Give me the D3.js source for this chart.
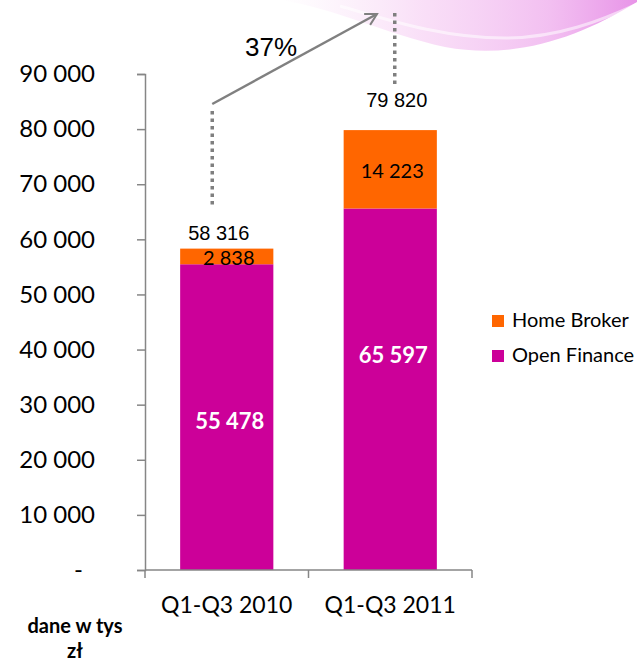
<!DOCTYPE html>
<html>
<head>
<meta charset="utf-8">
<script src="https://cdn.jsdelivr.net/npm/d3@7"></script>
<style>
  body { margin: 0; background: #fff; }
  svg { display: block; }
</style>
</head>
<body>
<div id="chart"></div>
<script>
// chart data
const categories = ["Q1-Q3 2010", "Q1-Q3 2011"];
const seriesNames = ["Open Finance", "Home Broker"];
const openFinance = [55478, 65597];
const homeBroker = [2838, 14223];
const totals = [58316, 79820];
const growthLabel = "37%";
const yTicks = [0, 10000, 20000, 30000, 40000, 50000, 60000, 70000, 80000, 90000];
const unitLines = ["dane w tys", "zł"];

const colors = { "Open Finance": "#cc0099", "Home Broker": "#ff6600" };

const width = 637, height = 661;
const svg = d3.select("#chart").append("svg")
    .attr("width", width)
    .attr("height", height);

// number format with space as thousands separator
const fmt = d3.formatLocale({ decimal: ",", thousands: " ", grouping: [3], currency: ["", ""] }).format(",d");

// background swoosh in the top right corner
const defs = svg.append("defs");
const grad = defs.append("linearGradient").attr("id", "swoosh")
    .attr("x1", "0%").attr("x2", "100%").attr("y1", "0%").attr("y2", "0%");
grad.append("stop").attr("offset", "0%").attr("stop-color", "#f4c8f0").attr("stop-opacity", 0);
grad.append("stop").attr("offset", "40%").attr("stop-color", "#f2b8ee").attr("stop-opacity", 0.45);
grad.append("stop").attr("offset", "75%").attr("stop-color", "#ea96e8").attr("stop-opacity", 0.6);
grad.append("stop").attr("offset", "100%").attr("stop-color", "#e070e0").attr("stop-opacity", 0.75);
svg.append("path")
    .attr("d", "M280,0 C335,8 385,34 445,47 C515,60 578,38 637,2 L637,0 Z")
    .attr("fill", "url(#swoosh)");
svg.append("path")
    .attr("d", "M340,6 C395,22 445,38 505,38 C558,38 602,20 637,4")
    .attr("fill", "none")
    .attr("stroke", "#ffffff")
    .attr("stroke-opacity", 0.55)
    .attr("stroke-width", 3);

// scales
const x = d3.scaleBand().domain(categories).range([145, 472]).padding(0);
const y = d3.scaleLinear().domain([0, 90000]).range([570, 74]);
const barWidth = x.bandwidth() * 0.57;
const barX = c => x(c) + (x.bandwidth() - barWidth) / 2;
const barCenter = c => x(c) + x.bandwidth() / 2;

// stacked data
const table = categories.map((c, i) => ({ category: c, "Open Finance": openFinance[i], "Home Broker": homeBroker[i] }));
const stacked = d3.stack().keys(seriesNames)(table);

// y axis
const yAxis = svg.append("g")
    .attr("transform", "translate(145,0)")
    .call(d3.axisLeft(y).tickValues(yTicks).tickSize(8).tickPadding(42)
        .tickFormat(d => d === 0 ? "-" : fmt(d)));
yAxis.select(".domain").attr("stroke", "#868686").attr("stroke-width", 1.5);
yAxis.selectAll(".tick line").attr("stroke", "#868686").attr("stroke-width", 1.5);
yAxis.selectAll(".tick text")
    .attr("fill", "#000")
    .style("font-family", "Lato, 'Open Sans', sans-serif")
    .style("font-size", "24px")
    .attr("dx", d => d === 0 ? -12 : 0);

// bars
svg.append("g").selectAll("g")
    .data(stacked)
    .join("g")
    .attr("fill", d => colors[d.key])
    .selectAll("rect")
    .data(d => d)
    .join("rect")
    .attr("x", d => barX(d.data.category))
    .attr("y", d => y(d[1]))
    .attr("width", barWidth)
    .attr("height", d => y(d[0]) - y(d[1]));

// x axis (boundary ticks, Excel style)
const xAxisG = svg.append("g");
xAxisG.append("line")
    .attr("x1", x.range()[0]).attr("x2", x.range()[1])
    .attr("y1", y(0)).attr("y2", y(0))
    .attr("stroke", "#868686").attr("stroke-width", 1.5);
const bounds = categories.map(c => x(c)).concat([x.range()[1]]);
xAxisG.selectAll(".bound")
    .data(bounds)
    .join("line")
    .attr("x1", d => d).attr("x2", d => d)
    .attr("y1", y(0)).attr("y2", y(0) + 8)
    .attr("stroke", "#868686").attr("stroke-width", 1.5);
xAxisG.selectAll(".cat")
    .data(categories)
    .join("text")
    .attr("x", d => barCenter(d))
    .attr("y", y(0) + 43)
    .attr("text-anchor", "middle")
    .style("font-family", "Lato, 'Open Sans', sans-serif")
    .style("font-size", "23px")
    .text(d => d);

// Open Finance labels (white, bold)
const whiteShift = [12, -26];
svg.append("g").selectAll("text")
    .data(stacked[0])
    .join("text")
    .attr("x", d => barCenter(d.data.category) + 3)
    .attr("y", (d, i) => (y(d[0]) + y(d[1])) / 2 + whiteShift[i])
    .attr("text-anchor", "middle")
    .attr("fill", "#fff")
    .style("font-family", "Lato, 'Open Sans', sans-serif")
    .style("font-weight", "bold")
    .style("font-size", "22px")
    .text(d => fmt(d[1] - d[0]));

// Home Broker labels
svg.append("g").selectAll("text")
    .data(stacked[1])
    .join("text")
    .attr("x", d => barCenter(d.data.category) + 2)
    .attr("y", d => (y(d[0]) + y(d[1])) / 2 + 8.5)
    .attr("text-anchor", "middle")
    .attr("fill", "#000")
    .style("font-family", "Lato, 'Open Sans', sans-serif")
    .style("font-size", "20px")
    .text(d => fmt(d[1] - d[0]));

// total annotations: dotted leaders, labels, growth arrow
const leadX = [barCenter(categories[0]) - 14.5, barCenter(categories[1]) + 4.5];
const leadTop = [111, 13];
const leadBottom = [y(totals[0]) - 40, y(totals[1]) - 45];
svg.append("g").selectAll("line")
    .data(totals)
    .join("line")
    .attr("x1", (d, i) => leadX[i]).attr("x2", (d, i) => leadX[i])
    .attr("y1", (d, i) => leadTop[i]).attr("y2", (d, i) => leadBottom[i])
    .attr("stroke", "#7f7f7f")
    .attr("stroke-width", 3.5)
    .attr("stroke-dasharray", "3.5,4");

const totalY = [y(totals[0]) - 9, y(totals[1]) - 23];
const totalX = [barCenter(categories[0]) - 8, barCenter(categories[1]) + 6.5];
svg.append("g").selectAll("text")
    .data(totals)
    .join("text")
    .attr("x", (d, i) => totalX[i])
    .attr("y", (d, i) => totalY[i])
    .attr("text-anchor", "middle")
    .attr("fill", "#000")
    .style("font-family", "'Liberation Sans', Arial, sans-serif")
    .style("font-size", "20px")
    .text(d => fmt(d));

defs.append("marker")
    .attr("id", "arrowhead")
    .attr("viewBox", "0 0 12 12")
    .attr("refX", 10).attr("refY", 6)
    .attr("markerWidth", 6).attr("markerHeight", 6)
    .attr("markerUnits", "strokeWidth")
    .attr("orient", "auto")
    .append("path")
    .attr("d", "M1,1 L10,6 L1,11")
    .attr("fill", "none")
    .attr("stroke", "#808080")
    .attr("stroke-width", 1.6)
    .attr("stroke-linejoin", "miter");
svg.append("line")
    .attr("x1", leadX[0]).attr("y1", 104)
    .attr("x2", 377).attr("y2", 14)
    .attr("stroke", "#808080")
    .attr("stroke-width", 2.5)
    .attr("marker-end", "url(#arrowhead)");
svg.append("text")
    .attr("x", 271).attr("y", 56)
    .attr("text-anchor", "middle")
    .style("font-family", "'Liberation Sans', Arial, sans-serif")
    .style("font-size", "26px")
    .text(growthLabel);

// legend (Home Broker on top)
const legend = svg.append("g").selectAll("g")
    .data(seriesNames.slice().reverse())
    .join("g")
    .attr("transform", (d, i) => `translate(492,${315 + i * 35})`);
legend.append("rect")
    .attr("width", 12).attr("height", 12)
    .attr("fill", d => colors[d]);
legend.append("text")
    .attr("x", 20).attr("y", 12)
    .style("font-family", "Lato, 'Open Sans', sans-serif")
    .style("font-size", "20px")
    .text(d => d);

// unit note
svg.append("g").selectAll("text")
    .data(unitLines)
    .join("text")
    .attr("x", 75)
    .attr("y", (d, i) => 633 + i * 25)
    .attr("text-anchor", "middle")
    .style("font-family", "Lato, 'Open Sans', sans-serif")
    .style("font-weight", "bold")
    .style("font-size", "20px")
    .text(d => d);
</script>
</body>
</html>
